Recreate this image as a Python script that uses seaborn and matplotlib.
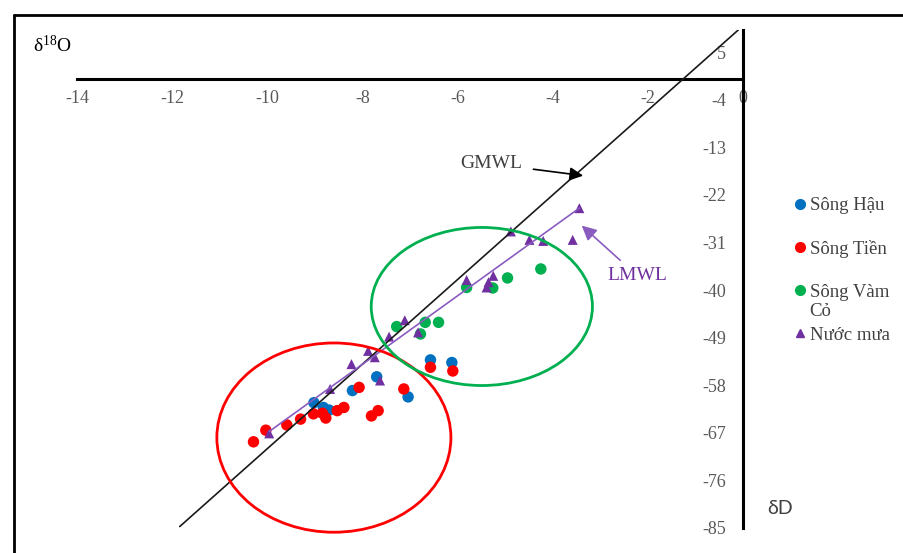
import numpy as np
import pandas as pd
import matplotlib
matplotlib.use("Agg")
import matplotlib.pyplot as plt
import seaborn as sns
from matplotlib.patches import Ellipse
from matplotlib.lines import Line2D

# ---------------- data ----------------
hau_d18O = [-9.02, -8.82, -8.70, -8.21, -7.70, -7.04, -6.57, -6.12]
hau_dD = [-61.3, -62.2, -62.7, -59.0, -56.4, -60.2, -53.2, -53.7]

tien_d18O = [-10.29, -10.03, -9.59, -9.30, -9.03, -8.84, -8.77, -8.53, -8.39,
             -8.07, -7.81, -7.67, -7.13, -6.57, -6.10]
tien_dD = [-68.7, -66.5, -65.5, -64.4, -63.4, -63.3, -64.2, -62.8, -62.2,
           -58.4, -63.8, -62.8, -58.7, -54.6, -55.3]

vamco_d18O = [-7.28, -6.78, -6.68, -6.40, -5.81, -5.26, -4.95, -4.25]
vamco_dD = [-46.9, -48.3, -46.1, -46.1, -39.5, -39.6, -37.7, -36.0]

mua_d18O = [-9.96, -8.68, -8.23, -7.88, -7.74, -7.63, -7.44, -7.11, -6.83,
            -5.81, -5.39, -5.35, -5.25, -4.88, -4.49, -4.20, -3.58, -3.44]
mua_dD = [-67.1, -58.7, -54.0, -51.5, -52.7, -57.1, -48.8, -45.7, -48.0,
          -38.1, -39.5, -38.5, -37.3, -28.9, -30.5, -30.7, -30.5, -24.5]

series_names = ["Sông Hậu", "Sông Tiền", "Sông Vàm Cỏ", "Nước mưa"]
legend_labels = ["Sông Hậu", "Sông Tiền", "Sông Vàm", "Nước mưa"]

x_ticks = [-14, -12, -10, -8, -6, -4, -2, 0]
y_ticks = [5, -4, -13, -22, -31, -40, -49, -58, -67, -76, -85]

# meteoric water lines: dD = slope * d18O + intercept
gmwl_slope, gmwl_intercept = 8.0, 10.0
gmwl_x_range = [-11.84, -0.10]
lmwl_slope, lmwl_intercept = 6.48, -2.2

# ---------------- style ----------------
c_hau, c_tien, c_vamco, c_mua = "#0070C0", "#FF0000", "#00B050", "#7030A0"
tick_gray = "#595959"
text_gray = "#404040"

sns.set_theme(style="white")
plt.rcParams["font.family"] = ["Liberation Serif", "DejaVu Sans"]
plt.rcParams["mathtext.fontset"] = "custom"
plt.rcParams["mathtext.rm"] = "Liberation Serif"
plt.rcParams["mathtext.it"] = "Liberation Serif:italic"

W, H = 904, 553
fig = plt.figure(figsize=(W / 100, H / 100), dpi=100)
ax = fig.add_axes([77 / W, 1 - 528 / H, (743 - 77) / W, (528 - 30) / H])
ax.set_facecolor("white")

data = pd.concat([
    pd.DataFrame({"d18O": hau_d18O, "dD": hau_dD, "grp": series_names[0]}),
    pd.DataFrame({"d18O": tien_d18O, "dD": tien_dD, "grp": series_names[1]}),
    pd.DataFrame({"d18O": vamco_d18O, "dD": vamco_dD, "grp": series_names[2]}),
    pd.DataFrame({"d18O": mua_d18O, "dD": mua_dD, "grp": series_names[3]}),
], ignore_index=True)

colors = [c_hau, c_tien, c_vamco, c_mua]
markers = ["o", "o", "o", "^"]
sizes = [68, 68, 68, 52]
for name, col, mk, sz in zip(series_names, colors, markers, sizes):
    sub = data[data["grp"] == name]
    sns.scatterplot(data=sub, x="d18O", y="dD", ax=ax, color=col, marker=mk,
                    s=sz, edgecolor="none", linewidth=0, zorder=3, legend=False)

# GMWL
gx = np.array(gmwl_x_range)
gmwl = pd.DataFrame({"x": gx, "y": gmwl_slope * gx + gmwl_intercept})
sns.lineplot(data=gmwl, x="x", y="y", ax=ax, color="#1a1a1a", lw=1.2,
             zorder=4, sort=False)

# LMWL over the range of rain samples
lx = np.array([min(mua_d18O), max(mua_d18O)])
lmwl = pd.DataFrame({"x": lx, "y": lmwl_slope * lx + lmwl_intercept})
sns.lineplot(data=lmwl, x="x", y="y", ax=ax, color="#8a5cc0", lw=1.2,
             zorder=4, sort=False)

# grouping ellipses
ax.add_patch(Ellipse((-8.60, -67.9), 4.92, 35.8, fill=False, ec=c_tien,
                     lw=2.0, clip_on=False, zorder=5))
ax.add_patch(Ellipse((-5.49, -43.1), 4.65, 29.9, fill=False, ec=c_vamco,
                     lw=2.0, clip_on=False, zorder=5))

# annotations
ax.annotate("GMWL", xy=(-3.36, -18.35), xytext=(-5.30, -16.1),
            ha="center", va="center", fontsize=14, color=text_gray,
            arrowprops=dict(arrowstyle="-|>", color="black", lw=1.2,
                            mutation_scale=20, shrinkA=6, shrinkB=0),
            zorder=6)
ax.annotate("LMWL", xy=(-3.39, -27.8), xytext=(-2.22, -37.3),
            ha="center", va="center", fontsize=14, color=c_mua,
            arrowprops=dict(arrowstyle="-|>", color="#8a5cc0", lw=1.2,
                            mutation_scale=22, shrinkA=4, shrinkB=0),
            zorder=6)

# axes
ax.set_xlim(-14, 0)
ax.set_ylim(-85, 9.2)
ax.spines["left"].set_position(("data", 0))
ax.spines["bottom"].set_position(("data", 0))
ax.spines["top"].set_visible(False)
ax.spines["right"].set_visible(False)
for s in ("left", "bottom"):
    ax.spines[s].set_color("black")
    ax.spines[s].set_linewidth(2.2)
    ax.spines[s].set_zorder(2)
ax.set_xticks(x_ticks)
ax.set_yticks(y_ticks)
ax.set_xticklabels([str(t) for t in x_ticks])
ax.set_yticklabels([str(t) for t in y_ticks])
ax.tick_params(axis="both", length=0, labelsize=13, labelcolor=tick_gray)
ax.tick_params(axis="x", pad=8)
ax.tick_params(axis="y", pad=12)
ax.set_xlabel("")
ax.set_ylabel("")
ax.grid(False)

# axis titles
fig.text(33 / W, 1 - 45 / H, r"δ$^{\mathrm{18}}$O", fontsize=14,
         color="black", ha="left", va="center")
fig.text(767 / W, 1 - 509 / H, "δD", fontsize=14, color=text_gray,
         ha="left", va="center", family=["Lato", "DejaVu Sans"])

# legend
handles = [Line2D([], [], ls="none", marker=m, color=c,
                  markersize=(7 if m == "o" else 6))
           for c, m in zip(colors, markers)]
leg = fig.legend(handles, legend_labels, loc="upper left",
                 bbox_to_anchor=(793 / W, 1 - 197 / H),
                 bbox_transform=fig.transFigure, frameon=False,
                 fontsize=13.5, labelspacing=1.38, handlelength=0.7,
                 handletextpad=0.2, borderpad=0, borderaxespad=0,
                 labelcolor=text_gray)
fig.text(809 / W, 1 - 312 / H, "Cỏ", fontsize=13.5, color=text_gray,
         ha="left", va="center")

# outer frame (top and left edges visible)
fig.add_artist(Line2D([14 / W, 1], [1 - 15 / H, 1 - 15 / H], color="black",
                      lw=2, transform=fig.transFigure))
fig.add_artist(Line2D([14 / W, 14 / W], [0, 1 - 15 / H], color="black",
                      lw=2, transform=fig.transFigure))

fig.savefig("out.png", dpi=100, facecolor="white")
